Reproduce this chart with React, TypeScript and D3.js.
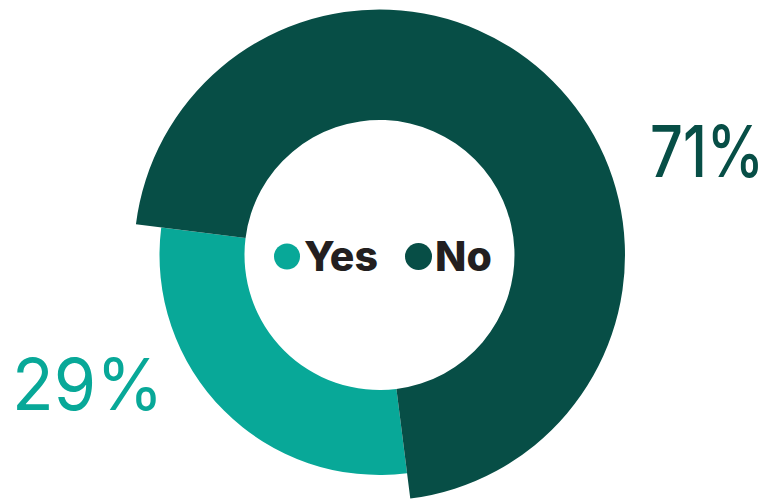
import React from "react";
import * as d3 from "d3";

const categories = ["Yes", "No"];
const values = [29, 71];
const valueLabels = ["29%", "71%"];

const W = 771;
const H = 499;
const CX = 379.5;
const CY = 255;
const INNER = 135;
const OUTER: Record<string, number> = { Yes: 220, No: 245.5 };
const COLORS: Record<string, string> = { Yes: "#08a898", No: "#074e46" };

export default function App() {
  const data = categories.map((c, i) => ({ cat: c, value: values[i], label: valueLabels[i] }));
  const offset = (7.2 * Math.PI) / 180;
  const start = Math.PI - offset;
  const pie = d3
    .pie<any>()
    .sort(null)
    .value((d) => d.value)
    .startAngle(start)
    .endAngle(start + 2 * Math.PI);
  const arcs = pie(data);
  const arcGen = d3.arc<any>();

  return (
    <svg
      width={W}
      height={H}
      style={{ position: "absolute", left: 0, top: 0, background: "#fff" }}
    >
      <g transform={`translate(${CX},${CY})`}>
        {arcs.map((a) => (
          <path
            key={a.data.cat}
            d={
              arcGen({
                innerRadius: INNER,
                outerRadius: OUTER[a.data.cat],
                startAngle: a.startAngle,
                endAngle: a.endAngle,
              }) as string
            }
            fill={COLORS[a.data.cat]}
          />
        ))}
      </g>
      <text
        transform="translate(764,177) scale(0.8,1)"
        textAnchor="end"
        fontFamily="Inter, sans-serif"
        fontWeight={500}
        fontSize={72}
        fill={COLORS.No}
      >
        {data[1].label}
      </text>
      <text
        transform="translate(12,410) scale(0.95,1)"
        fontFamily="Inter, sans-serif"
        fontWeight={400}
        fontSize={72}
        fill={COLORS.Yes}
      >
        {data[0].label}
      </text>
      {/* legend */}
      <g fontFamily="Inter, sans-serif" fontWeight={800} fontSize={41} fill="#231f20">
        <circle cx={287} cy={256.5} r={13} fill={COLORS.Yes} />
        <text x={304} y={270.5}>{categories[0]}</text>
        <circle cx={418.5} cy={256.5} r={13.5} fill={COLORS.No} />
        <text x={435} y={270.5}>{categories[1]}</text>
      </g>
    </svg>
  );
}
